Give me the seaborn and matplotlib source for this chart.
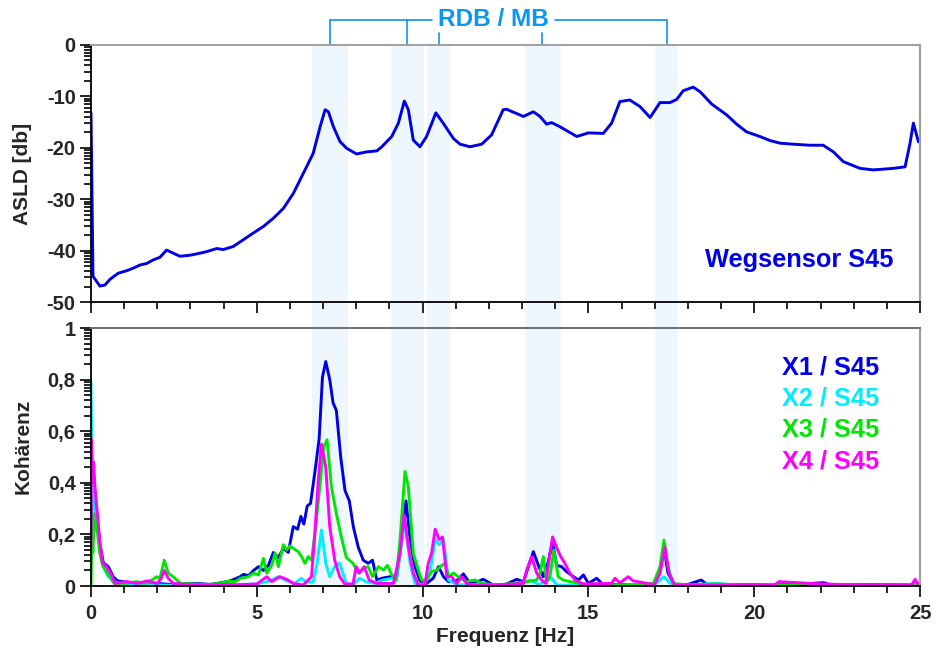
import numpy as np
import matplotlib
matplotlib.use("Agg")
import matplotlib.pyplot as plt
import matplotlib.transforms as mtransforms
from matplotlib.patches import Rectangle
from matplotlib.ticker import FixedLocator, MultipleLocator, FuncFormatter
import seaborn as sns

# ---------------------------------------------------------------- data
# Auto spectral level density of displacement sensor S45
asld_freq = [0.0, 0.06, 0.17, 0.27, 0.42, 0.57, 0.82, 1.08, 1.28, 1.48,
             1.68, 1.88, 2.08, 2.28, 2.48, 2.68, 2.99, 3.29, 3.49, 3.79,
             3.99, 4.29, 4.59, 4.89, 5.2, 5.5, 5.8, 6.1, 6.4, 6.7,
             6.91, 7.06, 7.16, 7.31, 7.51, 7.71, 8.01, 8.31, 8.62, 8.77,
             9.07, 9.27, 9.45, 9.57, 9.72, 9.92, 10.12, 10.4, 10.62, 10.93,
             11.13, 11.43, 11.78, 12.08, 12.43, 12.53, 13.04, 13.34, 13.54, 13.74,
             13.89, 14.14, 14.65, 15.0, 15.45, 15.7, 15.95, 16.25, 16.56, 16.86,
             17.16, 17.46, 17.66, 17.86, 18.16, 18.37, 18.72, 19.17, 19.47, 19.77,
             20.17, 20.48, 20.78, 21.18, 21.68, 22.08, 22.39, 22.69, 23.19, 23.59,
             24.2, 24.55, 24.7, 24.8, 24.95, 25.0]
asld_db = [-13.2, -45.0, -46.0, -46.9, -46.7, -45.6, -44.4, -43.9, -43.4, -42.8,
           -42.5, -41.8, -41.3, -39.9, -40.5, -41.1, -40.9, -40.5, -40.2, -39.6,
           -39.8, -39.2, -37.9, -36.6, -35.3, -33.7, -31.8, -28.9, -25.0, -21.1,
           -15.9, -12.6, -13.0, -15.9, -18.8, -20.1, -21.2, -20.8, -20.6, -19.8,
           -17.8, -15.2, -10.9, -12.6, -18.5, -19.8, -17.8, -13.2, -15.2, -18.2,
           -19.3, -19.8, -19.3, -17.5, -12.6, -12.5, -13.9, -13.0, -13.9, -15.4,
           -15.1, -15.9, -17.8, -17.1, -17.2, -15.2, -11.0, -10.7, -12.0, -14.1,
           -11.2, -11.2, -10.6, -8.9, -8.2, -9.1, -11.5, -13.6, -15.4, -16.9,
           -17.8, -18.6, -19.1, -19.3, -19.5, -19.5, -20.8, -22.7, -24.0, -24.3,
           -24.0, -23.7, -19.1, -15.2, -18.8, -18.9]

# Coherence X1 / S45
x1_freq = [0, 0.02, 0.08, 0.13, 0.2, 0.26, 0.37, 0.52, 0.67, 0.8,
           1.2, 1.6, 2.0, 2.4, 2.8, 3.2, 3.6, 3.9, 4.2, 4.5,
           4.6, 4.75, 4.9, 5.05, 5.2, 5.35, 5.5, 5.65, 5.8, 5.95,
           6.1, 6.23, 6.33, 6.42, 6.52, 6.62, 6.75, 6.88, 6.98, 7.08,
           7.2, 7.3, 7.4, 7.53, 7.66, 7.79, 7.91, 8.06, 8.21, 8.36,
           8.49, 8.62, 8.77, 9.02, 9.22, 9.37, 9.5, 9.62, 9.77, 9.92,
           10.12, 10.32, 10.48, 10.63, 10.78, 11.03, 11.23, 11.43, 11.53, 11.83,
           12.13, 12.5, 12.84, 13.04, 13.14, 13.34, 13.49, 13.64, 13.79, 13.92,
           14.04, 14.19, 14.34, 14.55, 14.7, 14.85, 15.0, 15.25, 15.45, 16.0,
           16.6, 17.0, 17.16, 17.28, 17.4, 17.6, 18.0, 18.4, 18.6, 19.5,
           20.5, 21.5, 22.1, 22.3, 23.5, 24.5, 25.0]
x1_coh = [0.12, 0.5, 0.42, 0.35, 0.25, 0.17, 0.09, 0.075, 0.036, 0.02,
          0.012, 0.008, 0.01, 0.006, 0.008, 0.01, 0.006, 0.012, 0.02, 0.036,
          0.045, 0.04, 0.06, 0.075, 0.06, 0.08, 0.13, 0.11, 0.146, 0.13,
          0.23, 0.22, 0.27, 0.24, 0.31, 0.32, 0.44, 0.57, 0.81, 0.87,
          0.80, 0.71, 0.68, 0.50, 0.37, 0.33, 0.23, 0.15, 0.10, 0.088,
          0.10, 0.023, 0.03, 0.036, 0.035, 0.18, 0.33, 0.18, 0.075, 0.02,
          0.01, 0.03, 0.075, 0.036, 0.017, 0.02, 0.047, 0.01, 0.01, 0.026,
          0.004, 0.006, 0.026, 0.016, 0.056, 0.133, 0.08, 0.036, 0.094, 0.17,
          0.08, 0.075, 0.056, 0.036, 0.023, 0.043, 0.01, 0.03, 0.004, 0.005,
          0.004, 0.008, 0.065, 0.15, 0.05, 0.004, 0.006, 0.023, 0.004, 0.006,
          0.004, 0.008, 0.013, 0.004, 0.006, 0.005, 0.008]

# Coherence X2 / S45
x2_freq = [0, 0.02, 0.05, 0.1, 0.2, 0.35, 0.5, 0.7, 1.0, 1.5,
           2.0, 2.5, 3.0, 3.5, 4.0, 4.5, 5.0, 5.4, 5.65, 5.9,
           6.15, 6.34, 6.5, 6.7, 6.82, 6.95, 7.08, 7.2, 7.35, 7.5,
           7.7, 7.9, 8.1, 8.3, 8.55, 8.8, 9.1, 9.2, 9.32, 9.47,
           9.62, 9.77, 10.02, 10.22, 10.38, 10.5, 10.63, 10.78, 11.03, 11.5,
           12.0, 12.5, 13.0, 13.24, 13.5, 13.9, 14.04, 14.5, 15.5, 16.5,
           17.0, 17.28, 17.5, 18.0, 18.8, 19.5, 20.5, 22.0, 23.5, 25.0]
x2_coh = [0.79, 0.6, 0.45, 0.3, 0.22, 0.08, 0.04, 0.015, 0.01, 0.006,
          0.004, 0.003, 0.005, 0.003, 0.004, 0.006, 0.008, 0.02, 0.036, 0.02,
          0.01, 0.03, 0.015, 0.015, 0.088, 0.217, 0.088, 0.036, 0.075, 0.088,
          0.01, 0.004, 0.03, 0.016, 0.01, 0.023, 0.03, 0.02, 0.127, 0.256,
          0.088, 0.01, 0.004, 0.05, 0.18, 0.16, 0.18, 0.023, 0.004, 0.006,
          0.003, 0.005, 0.008, 0.023, 0.005, 0.03, 0.004, 0.003, 0.002, 0.004,
          0.006, 0.036, 0.006, 0.003, 0.01, 0.004, 0.002, 0.004, 0.003, 0.006]

# Coherence X3 / S45
x3_freq = [0, 0.02, 0.06, 0.1, 0.14, 0.2, 0.26, 0.35, 0.5, 0.7,
           1.0, 1.38, 1.6, 1.83, 1.98, 2.08, 2.21, 2.33, 2.48, 2.7,
           3.1, 3.5, 3.9, 4.1, 4.35, 4.5, 4.75, 4.9, 5.05, 5.2,
           5.3, 5.45, 5.55, 5.65, 5.8, 5.9, 6.0, 6.1, 6.25, 6.35,
           6.45, 6.55, 6.65, 6.75, 6.9, 7.02, 7.12, 7.25, 7.4, 7.55,
           7.7, 7.9, 8.06, 8.21, 8.36, 8.49, 8.67, 8.82, 8.94, 9.07,
           9.2, 9.32, 9.47, 9.57, 9.72, 9.87, 9.97, 10.12, 10.27, 10.43,
           10.58, 10.68, 10.78, 10.93, 11.13, 11.33, 11.58, 11.8, 12.2, 12.74,
           13.14, 13.44, 13.54, 13.64, 13.74, 13.84, 13.96, 14.09, 14.24, 14.44,
           15.0, 16.0, 16.96, 17.16, 17.28, 17.4, 17.55, 18.0, 18.8, 20.0,
           21.5, 23.0, 24.5, 25.0]
x3_coh = [0.0, 0.13, 0.13, 0.28, 0.24, 0.2, 0.13, 0.08, 0.05, 0.01,
          0.01, 0.017, 0.01, 0.023, 0.036, 0.03, 0.10, 0.05, 0.036, 0.01,
          0.008, 0.006, 0.01, 0.018, 0.017, 0.03, 0.036, 0.05, 0.043, 0.107,
          0.05, 0.08, 0.127, 0.075, 0.16, 0.14, 0.155, 0.146, 0.133, 0.114,
          0.088, 0.114, 0.1, 0.2, 0.385, 0.54, 0.567, 0.385, 0.28, 0.19,
          0.11, 0.088, 0.05, 0.069, 0.075, 0.036, 0.075, 0.062, 0.08, 0.043,
          0.023, 0.18, 0.444, 0.385, 0.127, 0.062, 0.023, 0.023, 0.056, 0.062,
          0.08, 0.088, 0.036, 0.05, 0.03, 0.017, 0.023, 0.01, 0.004, 0.01,
          0.017, 0.023, 0.05, 0.114, 0.017, 0.036, 0.14, 0.036, 0.023, 0.017,
          0.004, 0.003, 0.01, 0.075, 0.178, 0.075, 0.01, 0.004, 0.008, 0.003,
          0.004, 0.003, 0.005, 0.004]

# Coherence X4 / S45
x4_freq = [0, 0.01, 0.04, 0.08, 0.12, 0.2, 0.26, 0.35, 0.47, 0.62,
           0.72, 1.08, 1.4, 1.7, 2.0, 2.12, 2.21, 2.33, 2.48, 3.0,
           3.5, 4.0, 4.5, 5.0, 5.3, 5.45, 5.7, 5.9, 6.1, 6.4,
           6.65, 6.75, 6.85, 6.95, 7.08, 7.2, 7.35, 7.5, 7.65, 7.9,
           8.0, 8.1, 8.24, 8.39, 8.62, 9.12, 9.32, 9.44, 9.57, 9.72,
           9.87, 10.07, 10.17, 10.27, 10.38, 10.5, 10.6, 10.73, 10.88, 11.03,
           11.18, 11.33, 11.53, 12.2, 13.04, 13.14, 13.29, 13.44, 13.59, 13.72,
           13.84, 13.92, 14.04, 14.14, 14.29, 14.44, 14.6, 14.85, 15.7, 15.8,
           15.95, 16.2, 16.35, 16.69, 16.99, 17.16, 17.31, 17.43, 17.6, 18.5,
           19.5, 20.6, 20.75, 21.7, 23.0, 24.0, 24.75, 24.85, 24.95, 25.0]
x4_coh = [0.15, 0.57, 0.4, 0.48, 0.38, 0.27, 0.18, 0.09, 0.075, 0.043,
          0.01, 0.017, 0.01, 0.02, 0.01, 0.03, 0.06, 0.03, 0.01, 0.005,
          0.004, 0.006, 0.005, 0.008, 0.036, 0.017, 0.036, 0.026, 0.01, 0.004,
          0.036, 0.2, 0.4, 0.55, 0.46, 0.23, 0.1, 0.036, 0.008, 0.008,
          0.075, 0.05, 0.075, 0.023, 0.01, 0.01, 0.127, 0.276, 0.15, 0.05,
          0.004, 0.004, 0.088, 0.127, 0.22, 0.18, 0.19, 0.036, 0.036, 0.01,
          0.036, 0.01, 0.004, 0.004, 0.01, 0.062, 0.114, 0.05, 0.023, 0.01,
          0.127, 0.19, 0.15, 0.12, 0.088, 0.05, 0.023, 0.008, 0.01, 0.03,
          0.012, 0.036, 0.02, 0.012, 0.004, 0.05, 0.15, 0.05, 0.004, 0.003,
          0.004, 0.003, 0.017, 0.01, 0.004, 0.006, 0.003, 0.026, 0.005, 0.01]

coh_labels = ["X1 / S45", "X2 / S45", "X3 / S45", "X4 / S45"]

# Frequency bands of the RDB / MB modes and their marker frequencies
band_lo = [6.66, 9.05, 10.13, 13.09, 17.0]
band_hi = [7.74, 10.04, 10.82, 14.16, 17.69]
rdb_mb_long = [7.2, 9.54, 17.36]
rdb_mb_short = [10.48, 13.6]

x_ticks = [0, 5, 10, 15, 20, 25]
asld_ticks = [-50, -40, -30, -20, -10, 0]
coh_ticks = [0, 0.2, 0.4, 0.6, 0.8, 1.0]

# ---------------------------------------------------------------- style
sns.set_theme(style="ticks")
plt.rcParams["font.family"] = ["Liberation Sans", "DejaVu Sans"]
plt.rcParams["font.weight"] = "bold"
plt.rcParams["axes.labelweight"] = "bold"

c_blue = "#0000E6"
c_cyan = "#00EEFF"
c_green = "#00E600"
c_magenta = "#FF00FF"
c_note = "#0A96F5"
c_band = "#EEF6FE"
coh_colors = [c_blue, c_cyan, c_green, c_magenta]

fs_tick = 14.5
fs_label = 15
fs_big = 18.3

W, H = 942, 652
fig = plt.figure(figsize=(W / 100, H / 100), dpi=100)
left, right = 91 / W, 920 / W
ax1 = fig.add_axes([left, 1 - 302 / H, right - left, (302 - 45) / H])
ax2 = fig.add_axes([left, 1 - 586 / H, right - left, (586 - 328) / H])

for ax in (ax1, ax2):
    ax.set_facecolor("none")

# shaded bands spanning both panels and the gap between them
band_tr = mtransforms.blended_transform_factory(ax2.transData, fig.transFigure)
y_bot, y_top = 1 - 586 / H, 1 - 45 / H
for lo, hi in zip(band_lo, band_hi):
    fig.patches.append(Rectangle((lo, y_bot), hi - lo, y_top - y_bot,
                                 transform=band_tr, facecolor=c_band,
                                 edgecolor="none", zorder=-1))

lw = 2.1
sns.lineplot(x=asld_freq, y=asld_db, ax=ax1, color=c_blue, linewidth=lw,
             sort=False, estimator=None)

coh_series = [(x1_freq, x1_coh), (x2_freq, x2_coh),
              (x3_freq, x3_coh), (x4_freq, x4_coh)]
for (f, v), col in zip(coh_series, coh_colors):
    sns.lineplot(x=f, y=v, ax=ax2, color=col, linewidth=lw,
                 sort=False, estimator=None)


def log_minor(majors):
    step = majors[1] - majors[0]
    out = []
    for m in majors[:-1]:
        out += [m + step * np.log10(k) for k in range(2, 10)]
    return out


for ax in (ax1, ax2):
    ax.set_xlim(0, 25)
    ax.xaxis.set_major_locator(FixedLocator(x_ticks))
    ax.xaxis.set_minor_locator(MultipleLocator(1))
    ax.tick_params(axis="both", which="major", direction="out", length=8,
                   width=1.2, color="black", labelsize=fs_tick)
    ax.tick_params(axis="x", which="major", pad=5)
    ax.tick_params(axis="y", which="major", pad=3)
    ax.tick_params(axis="both", which="minor", direction="out", length=5,
                   width=1.2, color="black")
    ax.spines["left"].set_color("black")
    ax.spines["bottom"].set_color("black")
    ax.spines["left"].set_linewidth(1.3)
    ax.spines["bottom"].set_linewidth(1.3)
    ax.spines["right"].set_color("#A0A0A0")
    ax.spines["right"].set_linewidth(1.6)
    ax.spines["top"].set_linewidth(1.4)

ax1.spines["top"].set_color("#A0A0A0")
ax2.spines["top"].set_color("#707070")

ax1.set_ylim(-50, 0)
ax1.yaxis.set_major_locator(FixedLocator(asld_ticks))
ax1.yaxis.set_minor_locator(FixedLocator(log_minor(asld_ticks)))
ax1.yaxis.set_major_formatter(FuncFormatter(lambda v, p: f"{v:.0f}"))
ax1.tick_params(axis="x", labelbottom=False)

ax2.set_ylim(0, 1)
ax2.yaxis.set_major_locator(FixedLocator(coh_ticks))
ax2.yaxis.set_minor_locator(FixedLocator(log_minor(coh_ticks)))
ax2.yaxis.set_major_formatter(FuncFormatter(
    lambda v, p: "0" if abs(v) < 1e-9 else ("1" if abs(v - 1) < 1e-9 else f"{v:.1f}".replace(".", ","))))
ax2.xaxis.set_major_formatter(FuncFormatter(lambda v, p: f"{v:.0f}"))

ax1.set_ylabel("ASLD [db]", fontsize=fs_label, fontweight="bold")
ax2.set_ylabel("Kohärenz", fontsize=fs_label, fontweight="bold")
ax1.yaxis.set_label_coords(-0.071, 0.5)
ax2.yaxis.set_label_coords(-0.071, 0.54)
ax2.set_xlabel("Frequenz [Hz]", fontsize=fs_label, fontweight="bold", labelpad=3)
ax1.set_xlabel("")

ax1.text(0.854, 0.163, "Wegsensor S45", transform=ax1.transAxes,
         ha="center", va="center", fontsize=fs_big, fontweight="bold", color=c_blue)

for lab, col, yy in zip(coh_labels, coh_colors, [0.845, 0.725, 0.605, 0.481]):
    ax2.text(0.8335, yy, lab, transform=ax2.transAxes, ha="left", va="center",
             fontsize=fs_big, fontweight="bold", color=col)

# bracket annotation above the upper panel
note_tr = mtransforms.blended_transform_factory(ax1.transData, ax1.transAxes)
y_bar = (302 - 20) / 257
y_short = (302 - 33) / 257
ax1.text(12.13, y_bar, "RDB / MB", transform=note_tr, ha="center", va="center",
         fontsize=17.6, fontweight="bold", color=c_note, clip_on=False)
ax1.plot([rdb_mb_long[0], 10.28], [y_bar, y_bar], transform=note_tr,
         color=c_note, lw=1.2, clip_on=False)
ax1.plot([14.0, rdb_mb_long[-1]], [y_bar, y_bar], transform=note_tr,
         color=c_note, lw=1.2, clip_on=False)
for fx in rdb_mb_long:
    ax1.plot([fx, fx], [1.0, y_bar], transform=note_tr, color=c_note,
             lw=1.2, clip_on=False)
for fx in rdb_mb_short:
    ax1.plot([fx, fx], [1.0, y_short], transform=note_tr, color=c_note,
             lw=1.2, clip_on=False)

fig.savefig("out.png", dpi=100, facecolor="white")
